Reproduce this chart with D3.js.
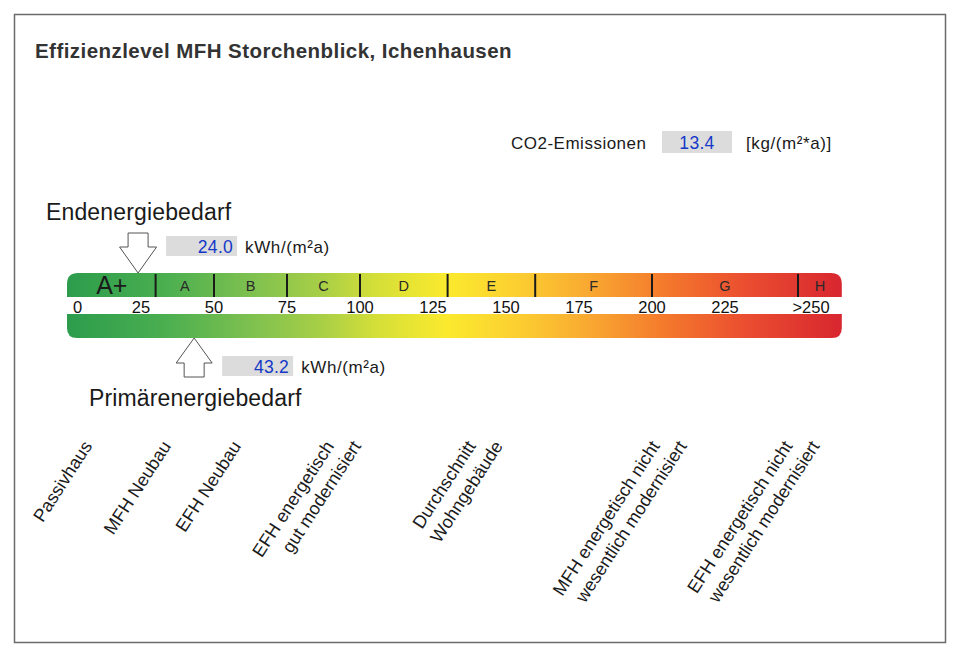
<!DOCTYPE html>
<html><head><meta charset="utf-8">
<script src="https://cdn.jsdelivr.net/npm/d3@7"></script>
<style>
body{margin:0;background:#fff}
svg{display:block}
text{font-family:"Liberation Sans",Arial,Helvetica,sans-serif}
</style>
</head><body>
<svg id="chart" width="960" height="666"></svg>
<script>
// ---------- data ----------
const title = "Effizienzlevel MFH Storchenblick, Ichenhausen";
const classNames = ["A+", "A", "B", "C", "D", "E", "F", "G", "H"];
const classBounds = [0, 30, 50, 75, 100, 130, 160, 200, 250, 265];
const tickValues = [0, 25, 50, 75, 100, 125, 150, 175, 200, 225, 250];
const tickLabels = ["0", "25", "50", "75", "100", "125", "150", "175", "200", "225", ">250"];
const endenergieValue = 24.0;
const primaerenergieValue = 43.2;
const co2Value = 13.4;
const energyUnit = "kWh/(m²a)";
const co2Unit = "[kg/(m²*a)]";
const referenceLabels = [
  ["Passivhaus"],
  ["MFH Neubau"],
  ["EFH Neubau"],
  ["EFH energetisch", "gut modernisiert"],
  ["Durchschnitt", "Wohngebäude"],
  ["MFH energetisch nicht", "wesentlich modernisiert"],
  ["EFH energetisch nicht", "wesentlich modernisiert"]
];
const referenceValues = [8.5, 35.5, 59.5, 96, 144.5, 207.5, 253];
const gradientOffsets = [0, 0.13, 0.24, 0.33, 0.40, 0.49, 0.58, 0.67, 0.77, 0.87, 1];
const gradientColors = ["#2c9c4c", "#4caf50", "#7fc14f", "#a9cf46", "#d5df38", "#fbea2e", "#fccf31", "#f9aa31", "#f47a2c", "#eb5030", "#d8262f"];

// ---------- layout ----------
const svg = d3.select("#chart");
const x = d3.scaleLinear().domain([0, 250]).range([68, 798]);
const barTop = 273, barMid1 = 297, barMid2 = 314, barBottom = 338;

// frame
svg.append("rect").attr("x", 14.5).attr("y", 14.5).attr("width", 931).attr("height", 628)
  .attr("fill", "none").attr("stroke", "#6b6b6b").attr("stroke-width", 1.5);

// title
svg.append("text").attr("x", 35).attr("y", 58).attr("font-size", 20.5).attr("font-weight", "bold")
  .attr("letter-spacing", 0.45).attr("fill", "#333").text(title);

// gradient
const defs = svg.append("defs");
const grad = defs.append("linearGradient").attr("id", "scaleGrad")
  .attr("gradientUnits", "userSpaceOnUse")
  .attr("x1", x(0) - 1).attr("x2", x(classBounds[classBounds.length - 1])).attr("y1", 0).attr("y2", 0);
grad.selectAll("stop").data(gradientOffsets).join("stop")
  .attr("offset", d => d).attr("stop-color", (d, i) => gradientColors[i]);

function barPath(x0, x1, y0, y1, r, roundTop) {
  if (roundTop) {
    return `M${x0},${y1} L${x0},${y0 + r} Q${x0},${y0} ${x0 + r},${y0} L${x1 - r},${y0} Q${x1},${y0} ${x1},${y0 + r} L${x1},${y1} Z`;
  }
  return `M${x0},${y0} L${x1},${y0} L${x1},${y1 - r} Q${x1},${y1} ${x1 - r},${y1} L${x0 + r},${y1} Q${x0},${y1} ${x0},${y1 - r} Z`;
}
const bx0 = x(0) - 1, bx1 = x(classBounds[classBounds.length - 1]);
svg.append("path").attr("d", barPath(bx0, bx1, barTop, barMid1, 11, true)).attr("fill", "url(#scaleGrad)");
svg.append("path").attr("d", barPath(bx0, bx1, barMid2, barBottom, 10, false)).attr("fill", "url(#scaleGrad)");

// class dividers
svg.append("g").selectAll("line").data(classBounds.slice(1, -1)).join("line")
  .attr("x1", d => x(d)).attr("x2", d => x(d)).attr("y1", barTop + 1).attr("y2", barMid1)
  .attr("stroke", "#1a1a1a").attr("stroke-width", 2);

// class letters
svg.append("g").selectAll("text").data(classNames).join("text")
  .attr("x", (d, i) => x((classBounds[i] + classBounds[i + 1]) / 2))
  .attr("y", (d, i) => i === 0 ? 294 : 291)
  .attr("text-anchor", "middle")
  .attr("font-size", (d, i) => i === 0 ? 25 : 14.5)
  .attr("fill", (d, i) => i === 0 ? "#1a1a1a" : "#2a2a2a")
  .text(d => d);

// tick labels
svg.append("g").selectAll("text").data(tickValues).join("text")
  .attr("x", d => x(d))
  .attr("dx", (d, i) => i === 0 ? 9.5 : (i === tickValues.length - 1 ? 13 : 0))
  .attr("y", 313)
  .attr("text-anchor", "middle").attr("font-size", 16.5).attr("fill", "#111")
  .text((d, i) => tickLabels[i]);

// arrows
function downArrow(cx, tipY) {
  const h = 40, hh = 26, hw = 18.5, sw = 10;
  return `M${cx - sw},${tipY - h} L${cx + sw},${tipY - h} L${cx + sw},${tipY - hh} L${cx + hw},${tipY - hh} L${cx},${tipY} L${cx - hw},${tipY - hh} L${cx - sw},${tipY - hh} Z`;
}
function upArrow(cx, tipY) {
  const h = 39, hh = 25, hw = 18, sw = 10;
  return `M${cx - sw},${tipY + h} L${cx + sw},${tipY + h} L${cx + sw},${tipY + hh} L${cx + hw},${tipY + hh} L${cx},${tipY} L${cx - hw},${tipY + hh} L${cx - sw},${tipY + hh} Z`;
}
svg.append("path").attr("d", downArrow(x(endenergieValue), barTop))
  .attr("fill", "#fff").attr("stroke", "#555").attr("stroke-width", 1);
svg.append("path").attr("d", upArrow(x(primaerenergieValue), barBottom))
  .attr("fill", "#fff").attr("stroke", "#555").attr("stroke-width", 1);

// value boxes
function valueBox(cx, y, value) {
  const bx = cx + 28;
  svg.append("rect").attr("x", bx).attr("y", y).attr("width", 71).attr("height", 20).attr("fill", "#dcdcdc");
  svg.append("text").attr("x", bx + 67).attr("y", y + 17).attr("text-anchor", "end")
    .attr("font-size", 17.5).attr("letter-spacing", 0.3).attr("fill", "#1438c8").text(d3.format(".1f")(value));
  svg.append("text").attr("x", bx + 79).attr("y", y + 17).attr("font-size", 17)
    .attr("letter-spacing", 0.6).attr("fill", "#1a1a1a").text(energyUnit);
}
valueBox(x(endenergieValue), 236, endenergieValue);
valueBox(x(primaerenergieValue), 356, primaerenergieValue);

// section labels
svg.append("text").attr("x", 46).attr("y", 220).attr("font-size", 23).attr("letter-spacing", 0.15)
  .attr("fill", "#1a1a1a").text("Endenergiebedarf");
svg.append("text").attr("x", 89).attr("y", 406).attr("font-size", 23).attr("letter-spacing", 0.15)
  .attr("fill", "#1a1a1a").text("Primärenergiebedarf");

// CO2
svg.append("text").attr("x", 511).attr("y", 149).attr("font-size", 17).attr("letter-spacing", 0.5)
  .attr("fill", "#1a1a1a").text("CO2-Emissionen");
svg.append("rect").attr("x", 662).attr("y", 131).attr("width", 70).attr("height", 22).attr("fill", "#dcdcdc");
svg.append("text").attr("x", 697).attr("y", 149).attr("text-anchor", "middle").attr("font-size", 17.5)
  .attr("letter-spacing", 0.3).attr("fill", "#1438c8").text(d3.format(".1f")(co2Value));
svg.append("text").attr("x", 746).attr("y", 149).attr("font-size", 17).attr("letter-spacing", 0.6)
  .attr("fill", "#1a1a1a").text(co2Unit);

// reference labels (rotated)
const refG = svg.append("g");
referenceLabels.forEach((lines, i) => {
  const n = lines.length;
  lines.forEach((line, j) => {
    const ax = x(referenceValues[i]) + (j - (n - 1) / 2) * 27;
    const ay = 446;
    refG.append("text")
      .attr("transform", `translate(${ax},${ay}) rotate(-57)`)
      .attr("text-anchor", "end").attr("font-size", 18).attr("fill", "#1a1a1a")
      .text(line);
  });
});
</script>
</body></html>
